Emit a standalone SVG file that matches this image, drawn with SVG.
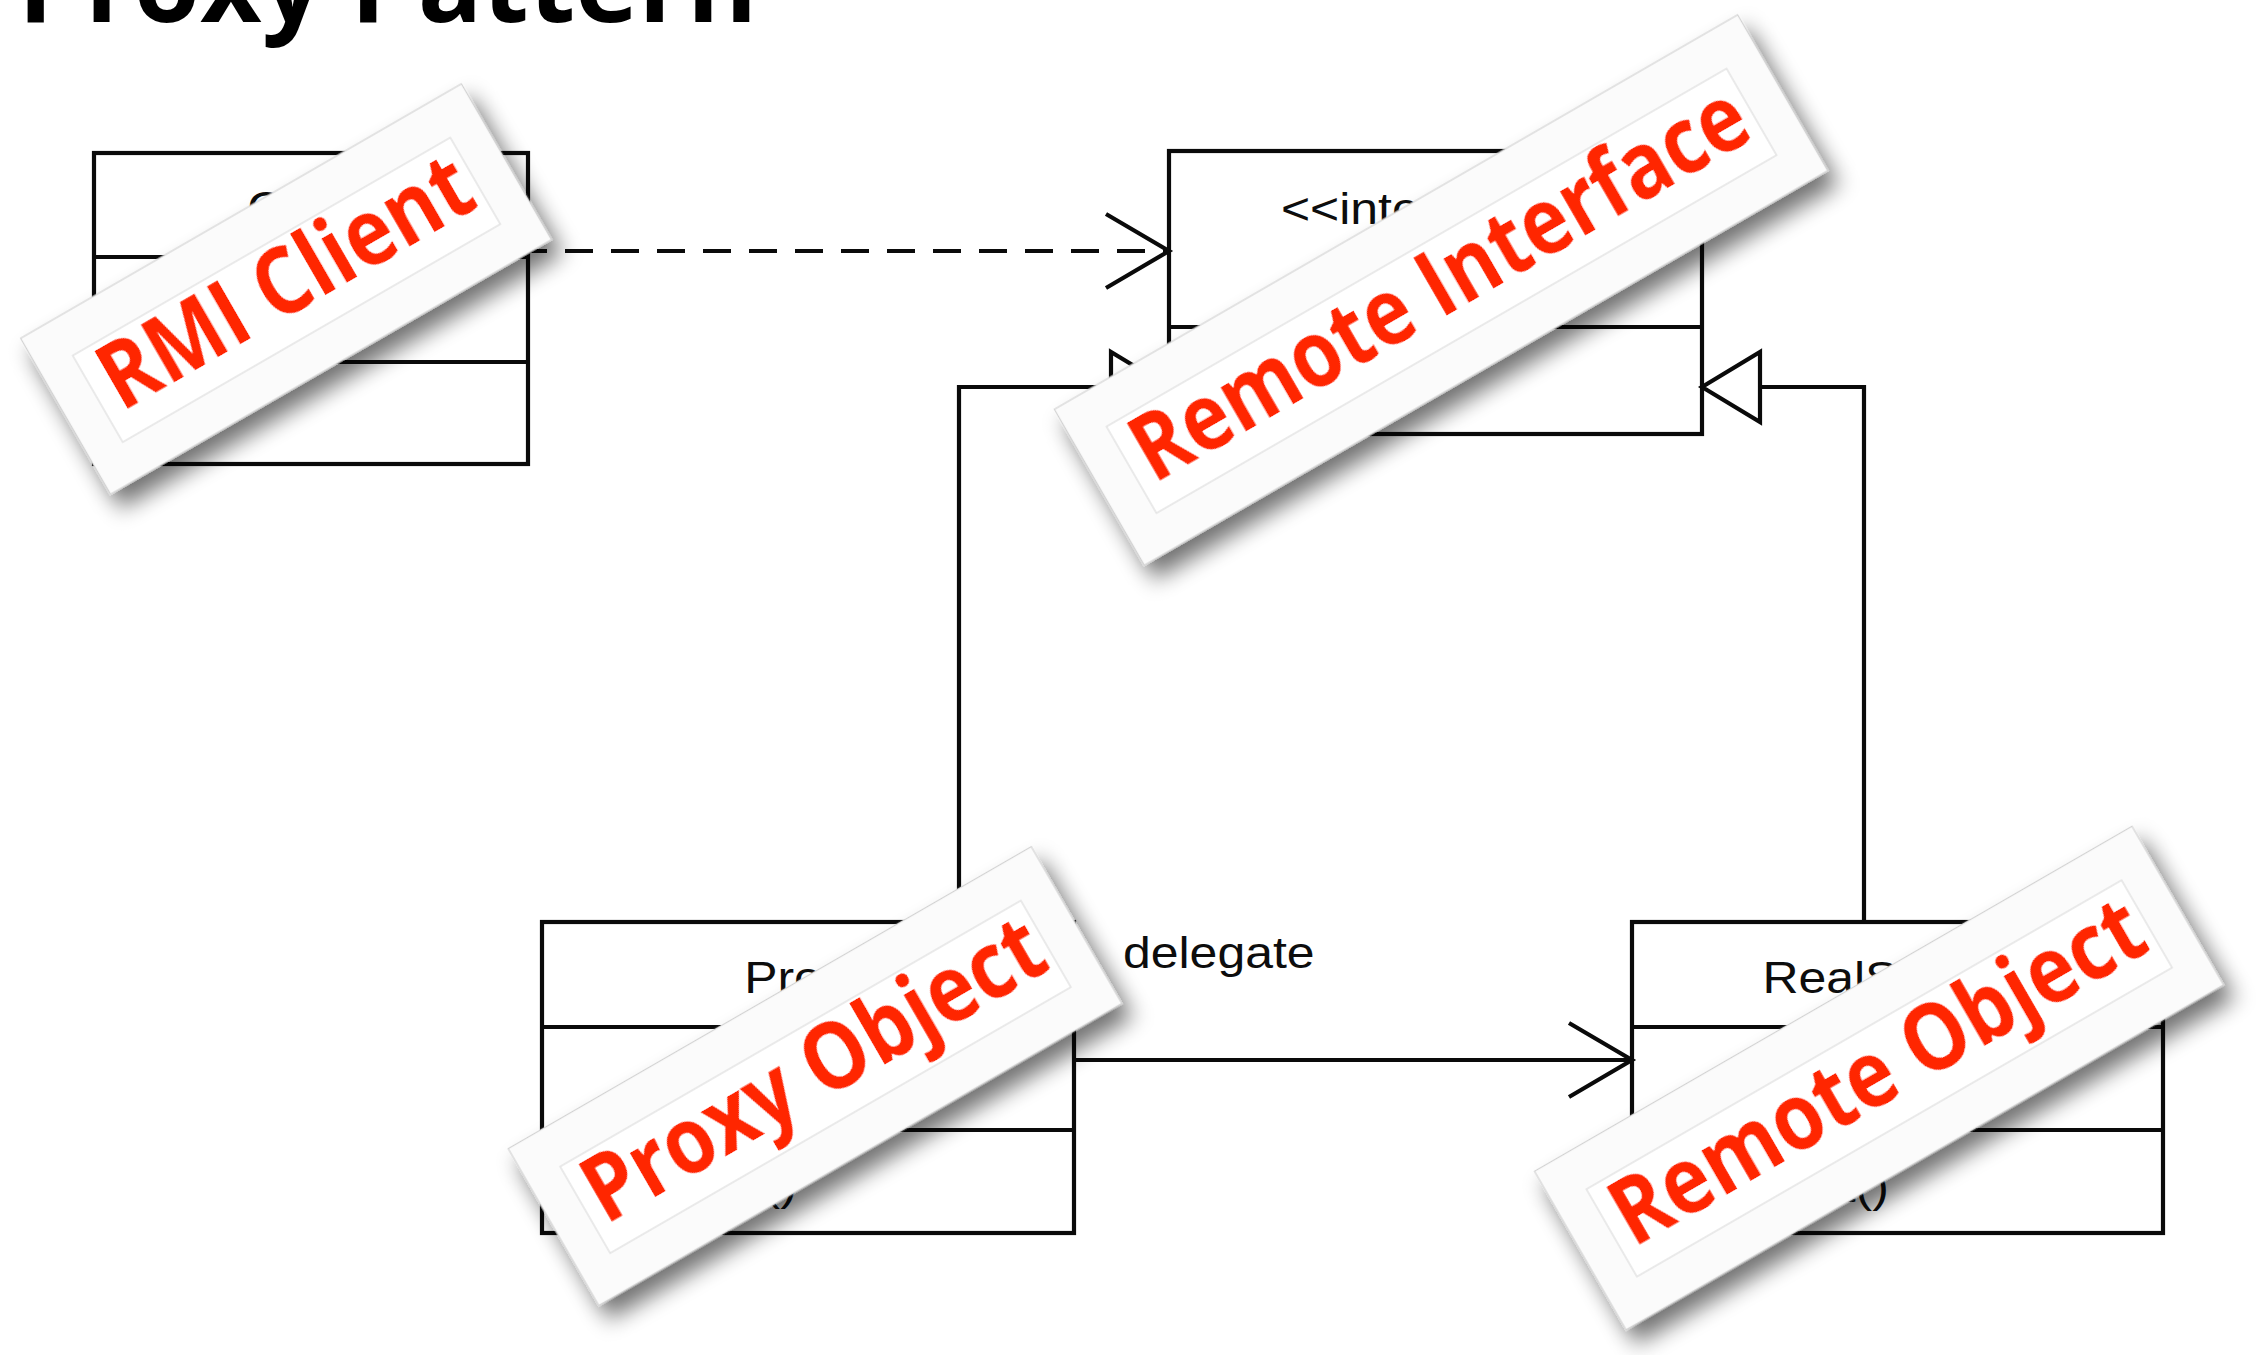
<svg xmlns="http://www.w3.org/2000/svg" width="2261" height="1355" viewBox="0 0 2261 1355">
  <style>
    .box { fill: #ffffff; stroke: #0a0a0a; stroke-width: 4.2; }
    .div { stroke: #0a0a0a; stroke-width: 4.2; }
    .uml { font-family: "Liberation Sans", Arial, sans-serif; font-size: 45px; fill: #0d0d0d; }
    .mid { text-anchor: middle; }
    .edge { fill: none; stroke: #0a0a0a; stroke-width: 4.2; }
    .dash { stroke-dasharray: 28 18; stroke-dashoffset: 9; }
    .title { font-family: "Open Sans", "Noto Sans", sans-serif; font-weight: 700; font-size: 107px; fill: #000000; }
    .tape { fill: #fbfbfb; stroke: #d2d2d2; stroke-width: 1.2; }
    .tape-inner { fill: #ffffff; stroke: #e3e3e3; stroke-width: 1.5; }
    .tape-text { font-family: "Open Sans", "Noto Sans", sans-serif; font-weight: 700; font-size: 93px; fill: #ff2600; text-anchor: middle; }
  </style>
  <defs>
    <marker id="open-arrow" markerUnits="userSpaceOnUse" viewBox="-68 -42 74 84" refX="0" refY="0" markerWidth="74" markerHeight="84" orient="auto">
      <path d="M -63 -37 L 0 0 L -63 37" fill="none" stroke="#0a0a0a" stroke-width="4.2"/>
    </marker>
    <marker id="hollow-triangle" markerUnits="userSpaceOnUse" viewBox="-64 -40 70 80" refX="0" refY="0" markerWidth="70" markerHeight="80" orient="auto">
      <path d="M 0 0 L -58 -35 L -58 35 Z" fill="#ffffff" stroke="#0a0a0a" stroke-width="4.2"/>
    </marker>
    <filter id="tape-shadow" x="-20%" y="-40%" width="140%" height="200%">
      <feGaussianBlur in="SourceAlpha" stdDeviation="11"/>
      <feOffset dx="2" dy="17" result="blur"/>
      <feComponentTransfer>
        <feFuncA type="linear" slope="0.55"/>
      </feComponentTransfer>
      <feMerge>
        <feMergeNode/>
        <feMergeNode in="SourceGraphic"/>
      </feMerge>
    </filter>
  </defs>

  <rect width="2261" height="1355" fill="#ffffff"/>

  <text class="title" x="18" y="22">Proxy Pattern</text>

  <!-- class boxes -->
  <g id="client">
    <rect class="box" x="94" y="153" width="434" height="311"/>
    <line class="div" x1="94" y1="257" x2="528" y2="257"/>
    <line class="div" x1="94" y1="362" x2="528" y2="362"/>
    <text class="uml mid" transform="translate(311,223) scale(1.11,1)">Client</text>
  </g>

  <g id="subject">
    <rect class="box" x="1169" y="151" width="533" height="283"/>
    <line class="div" x1="1169" y1="327" x2="1702" y2="327"/>
    <text class="uml mid" transform="translate(1435,224) scale(1.11,1)">&lt;&lt;interface&gt;&gt;</text>
    <text class="uml mid" transform="translate(1435,277) scale(1.11,1)">Subject</text>
    <text class="uml" transform="translate(1222,398) scale(1.11,1)">request()</text>
  </g>

  <g id="proxy">
    <rect class="box" x="542" y="922" width="532" height="311"/>
    <line class="div" x1="542" y1="1027" x2="1074" y2="1027"/>
    <line class="div" x1="542" y1="1130" x2="1074" y2="1130"/>
    <text class="uml mid" transform="translate(808,993) scale(1.11,1)">Proxy</text>
    <text class="uml" transform="translate(597,1200) scale(1.11,1)">request()</text>
  </g>

  <g id="real-subject">
    <rect class="box" x="1632" y="922" width="531" height="311"/>
    <line class="div" x1="1632" y1="1027" x2="2163" y2="1027"/>
    <line class="div" x1="1632" y1="1130" x2="2163" y2="1130"/>
    <text class="uml mid" transform="translate(1897,993) scale(1.11,1)">RealSubject</text>
    <text class="uml" transform="translate(1689,1202) scale(1.11,1)">request()</text>
  </g>

  <!-- connectors -->
  <g id="connectors">
    <path class="edge dash" d="M 528 251 H 1169" marker-end="url(#open-arrow)"/>
    <path class="edge" d="M 959 922 V 387 H 1169" marker-end="url(#hollow-triangle)"/>
    <path class="edge" d="M 1864 922 V 387 H 1702" marker-end="url(#hollow-triangle)"/>
    <path class="edge" d="M 1074 1060 H 1632" marker-end="url(#open-arrow)"/>
    <text class="uml" transform="translate(1123,968) scale(1.11,1)">delegate</text>
  </g>

  <!-- paper labels stuck over the classes -->
  <g id="label-rmi-client" transform="translate(286,289) rotate(-30)" filter="url(#tape-shadow)">
    <rect class="tape" x="-254.5" y="-90" width="509" height="180"/>
    <rect class="tape-inner" x="-218" y="-49" width="436" height="100"/>
    <text class="tape-text" transform="translate(3,25) scale(0.87,1)">RMI Client</text>
  </g>

  <g id="label-remote-interface" transform="translate(1441,290) rotate(-30)" filter="url(#tape-shadow)">
    <rect class="tape" x="-394.5" y="-90" width="789" height="180"/>
    <rect class="tape-inner" x="-358" y="-49" width="716" height="100"/>
    <text class="tape-text" transform="translate(2,25) scale(0.86,1)">Remote Interface</text>
  </g>

  <g id="label-proxy-object" transform="translate(815,1076) rotate(-30)" filter="url(#tape-shadow)">
    <rect class="tape" x="-302" y="-90.5" width="604" height="181"/>
    <rect class="tape-inner" x="-266" y="-49" width="532" height="100"/>
    <text class="tape-text" transform="translate(2,25) scale(0.87,1)">Proxy Object</text>
  </g>

  <g id="label-remote-object" transform="translate(1879,1078) rotate(-30)" filter="url(#tape-shadow)">
    <rect class="tape" x="-345" y="-91.5" width="690" height="183"/>
    <rect class="tape-inner" x="-309" y="-50" width="618" height="101"/>
    <text class="tape-text" transform="translate(2,25) scale(0.87,1)">Remote Object</text>
  </g>
</svg>
